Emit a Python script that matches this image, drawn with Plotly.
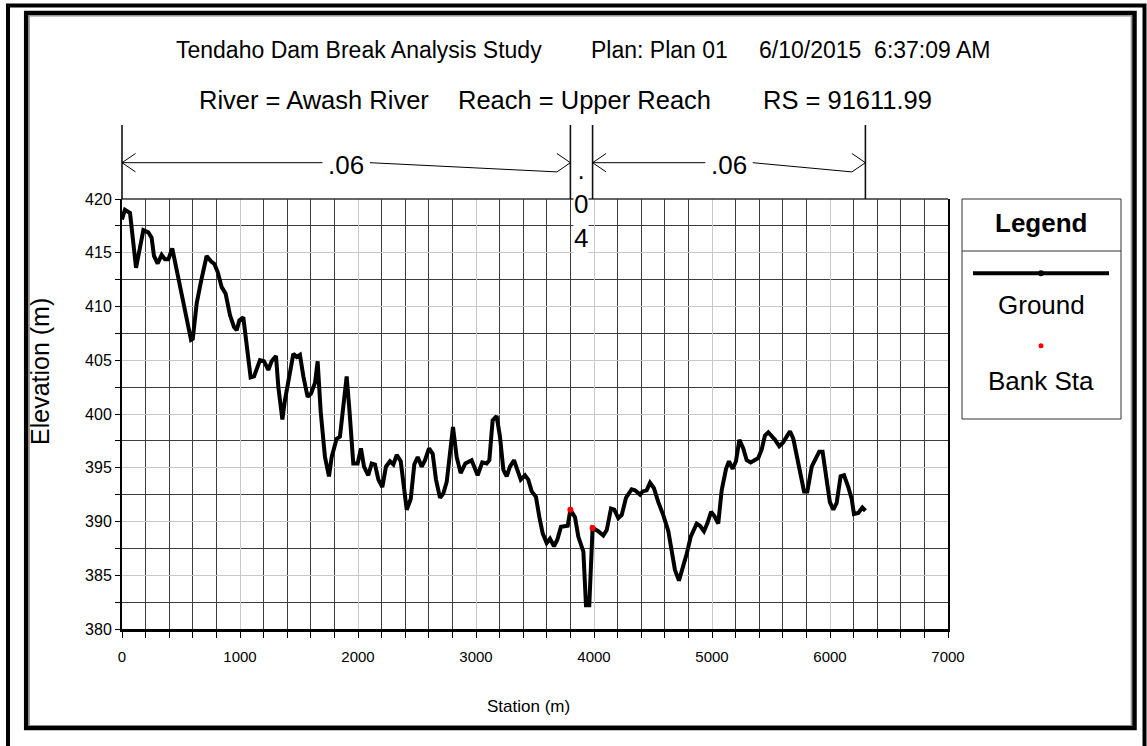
import plotly.graph_objects as go

# ---------------- data ----------------
station = [0, 25, 68, 119, 181, 223, 251, 271, 302, 336, 364, 393, 426, 585, 600, 633, 667, 717, 754, 783,
           811, 845, 878, 915, 949, 972, 994, 1028, 1048, 1090, 1119, 1141, 1169, 1203, 1240, 1268, 1305,
           1325, 1359, 1381, 1415, 1452, 1480, 1508, 1537, 1573, 1602, 1636, 1658, 1684, 1720, 1754, 1777,
           1819, 1847, 1876, 1904, 1927, 1960, 1997, 2025, 2051, 2087, 2116, 2144, 2173, 2206, 2237, 2271,
           2300, 2328, 2362, 2413, 2447, 2477, 2506, 2540, 2568, 2602, 2633, 2661, 2695, 2723, 2752, 2780,
           2805, 2836, 2870, 2910, 2963, 3014, 3053, 3090, 3113, 3141, 3175, 3203, 3232, 3260, 3288, 3322,
           3350, 3379, 3415, 3443, 3472, 3508, 3537, 3565, 3599, 3627, 3661, 3689, 3720, 3754, 3777, 3800,
           3839, 3867, 3910, 3932, 3960, 3988, 4036, 4079, 4108, 4144, 4172, 4206, 4235, 4271, 4319, 4347,
           4390, 4412, 4446, 4475, 4508, 4545, 4587, 4630, 4658, 4686, 4720, 4748, 4786, 4820, 4870, 4898,
           4932, 4960, 4992, 5020, 5053, 5082, 5119, 5144, 5175, 5203, 5232, 5265, 5294, 5328, 5364, 5392,
           5421, 5449, 5477, 5506, 5534, 5570, 5599, 5633, 5661, 5689, 5731, 5780, 5808, 5845, 5881, 5909,
           5937, 5971, 5999, 6028, 6056, 6090, 6119, 6155, 6184, 6203, 6240, 6274, 6300]
elevation = [418.1, 419.0, 418.7, 413.6, 417.1, 416.9, 416.4, 414.7, 414.0, 414.8, 414.4, 414.4, 415.4, 406.9,
             407.0, 410.3, 412.2, 414.7, 414.2, 413.95, 413.2, 411.8, 411.2, 409.2, 408.1, 407.8, 408.7,
             409.0, 407.2, 403.4, 403.5, 404.2, 405.0, 404.9, 404.1, 404.9, 405.4, 402.5, 399.5, 401.3,
             403.5, 405.6, 405.3, 405.5, 403.5, 401.6, 401.9, 402.9, 404.9, 400.2, 396.0, 394.2, 396.0,
             397.7, 397.9, 400.7, 403.5, 400.4, 395.4, 395.4, 396.8, 395.1, 394.3, 395.4, 395.3, 393.9,
             393.2, 395.1, 395.6, 395.3, 396.2, 395.6, 391.1, 392.1, 395.3, 396.0, 395.1, 395.7, 396.8,
             396.3, 393.9, 392.2, 392.6, 393.7, 396.3, 398.8, 396.0, 394.5, 395.4, 395.7, 394.3, 395.5,
             395.4, 395.7, 399.4, 399.8, 397.9, 394.8, 394.2, 395.1, 395.7, 394.8, 393.9, 394.3, 393.9,
             392.8, 392.3, 390.4, 388.9, 388.0, 388.4, 387.7, 388.3, 389.5, 389.6, 389.6, 391.1, 390.4,
             388.6, 387.2, 382.2, 382.2, 389.4, 389.1, 388.7, 389.2, 391.2, 391.1, 390.3, 390.6, 392.2,
             393.0, 392.9, 392.5, 392.8, 392.9, 393.6, 393.1, 391.8, 390.6, 389.1, 387.0, 385.5, 384.5,
             385.5, 387.0, 388.6, 389.8, 389.6, 389.1, 389.8, 390.9, 390.5, 389.8, 392.9, 394.9, 395.6,
             394.9, 395.6, 397.6, 396.8, 395.7, 395.5, 395.7, 395.9, 396.7, 398.0, 398.3, 398.0, 397.6,
             397.0, 397.3, 397.9, 398.4, 397.7, 395.4, 392.8, 392.8, 395.1, 395.9, 396.5, 396.5, 394.0,
             391.8, 391.1, 391.7, 394.2, 394.3, 393.2, 392.1, 390.7, 390.8, 391.3, 391.0]
bank_station = [3800, 3988]
bank_elevation = [391.1, 389.4]
n_breaks = [0, 3800, 3988, 6300]
n_values = [".06", ".04", ".06"]
x_ticks = list(range(0, 7001, 1000))
y_ticks = list(range(380, 421, 5))
title_line1 = ["Tendaho Dam Break Analysis Study", "Plan: Plan 01", "6/10/2015&nbsp; 6:37:09 AM"]
title_line2 = ["River = Awash River", "Reach = Upper Reach", "RS = 91611.99"]
legend_names = ["Ground", "Bank Sta"]

# ---------------- layout helpers ----------------
W, H = 1147, 746
L, R, T, B = 122, 199, 199, 117
PW, PH = W - L - R, H - T - B
X_MIN, X_MAX = 0, 7000
Y_MIN, Y_MAX = 380, 420
FONT = "Liberation Sans, Arial, sans-serif"


def px(x):
    return (x - L) / PW


def py(y):
    return (H - B - y) / PH


def sx(s):
    return (s - X_MIN) / (X_MAX - X_MIN)


fig = go.Figure()
fig.add_trace(go.Scatter(x=station, y=elevation, mode="lines",
                         line=dict(color="black", width=4), name=legend_names[0],
                         showlegend=False, hoverinfo="skip"))
fig.add_trace(go.Scatter(x=bank_station, y=bank_elevation, mode="markers",
                         marker=dict(color="red", size=6), name=legend_names[1],
                         showlegend=False, hoverinfo="skip"))

shapes = []
annotations = []

# top frame of plot
shapes.append(dict(type="line", xref="paper", yref="paper", x0=0, x1=1, y0=1, y1=1,
                   line=dict(color="#333333", width=1.5)))

# n-value breaks
y_top = py(125)
for s in n_breaks:
    shapes.append(dict(type="line", xref="paper", yref="paper", x0=sx(s), x1=sx(s), y0=1, y1=y_top,
                       line=dict(color="#111111", width=1.6)))

yA = py(162.7)
dyb = 9.2 / PH
dxb = 13.5 / PW
gap = 23.7 / PW
for i, nv in enumerate(n_values):
    a, b = sx(n_breaks[i]), sx(n_breaks[i + 1])
    c = (a + b) / 2
    if (b - a) * PW > 60:
        for sgn in (1, -1):
            shapes.append(dict(type="line", xref="paper", yref="paper", x0=a, y0=yA,
                               x1=a + dxb, y1=yA + sgn * dyb, line=dict(color="black", width=1)))
            shapes.append(dict(type="line", xref="paper", yref="paper", x0=b, y0=yA,
                               x1=b - dxb, y1=yA + sgn * dyb, line=dict(color="black", width=1)))
        shapes.append(dict(type="line", xref="paper", yref="paper", x0=a, y0=yA, x1=c - gap, y1=yA,
                           line=dict(color="black", width=1)))
        shapes.append(dict(type="line", xref="paper", yref="paper", x0=c + gap, y0=yA, x1=b - dxb,
                           y1=yA - dyb, line=dict(color="black", width=1)))
        annotations.append(dict(xref="paper", yref="paper", x=c, y=py(165), text=nv, showarrow=False,
                                xanchor="center", yanchor="middle",
                                font=dict(family=FONT, size=26, color="black")))
    else:
        annotations.append(dict(xref="paper", yref="paper", x=c, y=py(204), text="<br>".join(nv),
                                showarrow=False, xanchor="center", yanchor="middle",
                                bgcolor="white", borderpad=0,
                                font=dict(family=FONT, size=26, color="black")))

# titles
for txt, cx in zip(title_line1, [358.5, 659.5, 874]):
    annotations.append(dict(xref="paper", yref="paper", x=px(cx), y=py(50), text=txt, showarrow=False,
                            xanchor="center", yanchor="middle",
                            font=dict(family=FONT, size=23, color="black")))
for txt, cx in zip(title_line2, [313.5, 584, 847.5]):
    annotations.append(dict(xref="paper", yref="paper", x=px(cx), y=py(100), text=txt, showarrow=False,
                            xanchor="center", yanchor="middle",
                            font=dict(family=FONT, size=25.5, color="black")))

# axis titles
annotations.append(dict(xref="paper", yref="paper", x=px(528), y=py(706), text="Station (m)",
                        showarrow=False, xanchor="center", yanchor="middle",
                        font=dict(family=FONT, size=17, color="black")))
annotations.append(dict(xref="paper", yref="paper", x=px(40), y=py(372), text="Elevation (m)",
                        showarrow=False, xanchor="center", yanchor="middle", textangle=-90,
                        font=dict(family=FONT, size=25, color="black")))

# legend box
lx0, lx1 = px(962), px(1121)
shapes.append(dict(type="rect", xref="paper", yref="paper", x0=lx0, x1=lx1, y0=py(419), y1=py(199),
                   line=dict(color="#333333", width=1), fillcolor="white"))
shapes.append(dict(type="line", xref="paper", yref="paper", x0=lx0, x1=lx1, y0=py(251), y1=py(251),
                   line=dict(color="#333333", width=1)))
shapes.append(dict(type="line", xref="paper", yref="paper", x0=px(973), x1=px(1109), y0=py(273.3),
                   y1=py(273.3), line=dict(color="black", width=4)))
lcx = px(1041)
shapes.append(dict(type="circle", xref="paper", yref="paper", x0=lcx - 3 / PW, x1=lcx + 3 / PW,
                   y0=py(273.3) - 3 / PH, y1=py(273.3) + 3 / PH, line=dict(width=0), fillcolor="black"))
shapes.append(dict(type="circle", xref="paper", yref="paper", x0=lcx - 2.5 / PW, x1=lcx + 2.5 / PW,
                   y0=py(345.7) - 2.5 / PH, y1=py(345.7) + 2.5 / PH, line=dict(width=0), fillcolor="red"))
annotations.append(dict(xref="paper", yref="paper", x=lcx, y=py(223), text="<b>Legend</b>",
                        showarrow=False, xanchor="center", yanchor="middle",
                        font=dict(family=FONT, size=26, color="black")))
annotations.append(dict(xref="paper", yref="paper", x=lcx, y=py(305), text=legend_names[0],
                        showarrow=False, xanchor="center", yanchor="middle",
                        font=dict(family=FONT, size=26, color="black")))
annotations.append(dict(xref="paper", yref="paper", x=lcx, y=py(381), text=legend_names[1],
                        showarrow=False, xanchor="center", yanchor="middle",
                        font=dict(family=FONT, size=26, color="black")))

# outer double borders
shapes.append(dict(type="rect", xref="paper", yref="paper", x0=px(8), x1=px(1144.5), y0=py(760),
                   y1=py(5.5), line=dict(color="black", width=4)))
shapes.append(dict(type="rect", xref="paper", yref="paper", x0=px(26.2), x1=px(1134.5), y0=py(728),
                   y1=py(13), line=dict(color="black", width=4.5)))
shapes.append(dict(type="rect", xref="paper", yref="paper", x0=px(29.2), x1=px(1131.3), y0=py(725.5),
                   y1=py(15.8), line=dict(color="#8a8a8a", width=1.2)))

fig.update_layout(
    width=W, height=H,
    margin=dict(l=L, r=R, t=T, b=B, pad=0),
    paper_bgcolor="white", plot_bgcolor="white",
    showlegend=False,
    shapes=shapes, annotations=annotations,
    xaxis=dict(range=[X_MIN, X_MAX], tickvals=x_ticks, ticktext=[str(v) for v in x_ticks],
               showgrid=True, gridcolor="#c8c8c8", gridwidth=1,
               ticks="outside", ticklen=6, tickcolor="black", tickwidth=1,
               minor=dict(dtick=200, showgrid=True, gridcolor="#3c3c3c", gridwidth=1,
                          ticks="outside", ticklen=6, tickcolor="black"),
               showline=True, linecolor="black", linewidth=3, zeroline=False,
               ticklabelstandoff=6,
               tickfont=dict(family=FONT, size=15, color="black"), fixedrange=True),
    yaxis=dict(range=[Y_MIN, Y_MAX], tickvals=y_ticks, ticktext=[str(v) for v in y_ticks],
               showgrid=True, gridcolor="#c8c8c8", gridwidth=1,
               ticks="outside", ticklen=5, tickcolor="black", tickwidth=1,
               minor=dict(dtick=2.5, showgrid=True, gridcolor="#3c3c3c", gridwidth=1,
                          ticks="outside", ticklen=5, tickcolor="black"),
               showline=True, linecolor="black", linewidth=2, mirror=True, zeroline=False,
               tickfont=dict(family=FONT, size=16, color="black"), fixedrange=True),
)

fig.write_html("out.html", config={"displayModeBar": False})
